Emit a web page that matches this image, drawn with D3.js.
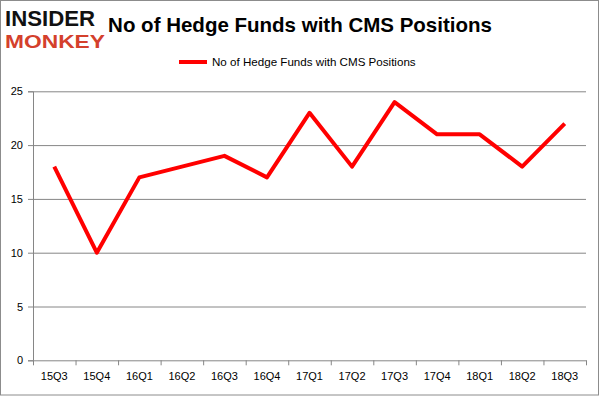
<!DOCTYPE html>
<html>
<head>
<meta charset="utf-8">
<script src="https://cdn.jsdelivr.net/npm/d3@7"></script>
<style>
  body { margin: 0; background: #fff; }
  text { font-family: "Liberation Sans", Arial, sans-serif; }
</style>
</head>
<body>
<div id="chart"></div>
<script>
// ── DATA ─────────────────────────────────────────────────────────────────────
const quarters = ['15Q3', '15Q4', '16Q1', '16Q2', '16Q3', '16Q4', '17Q1',
                  '17Q2', '17Q3', '17Q4', '18Q1', '18Q2', '18Q3'];
const fundCounts = [18, 10, 17, 18, 19, 17, 23, 18, 24, 21, 21, 18, 22];
const yTicks = [0, 5, 10, 15, 20, 25];
const seriesName = 'No of Hedge Funds with CMS Positions';
const titleText = 'No of Hedge Funds with CMS Positions';

// ── DIMENSIONS ───────────────────────────────────────────────────────────────
const W = 601, H = 396;
const plot = { left: 33, right: 586, top: 91.3, bottom: 360.3 };

const svg = d3.select('#chart').append('svg')
  .attr('width', W)
  .attr('height', H);

// outer frame
svg.append('rect')
  .attr('x', 0.5).attr('y', 0.5)
  .attr('width', 598).attr('height', 394.5)
  .attr('fill', '#fff')
  .attr('stroke', '#8c8c8c');

// ── SCALES ───────────────────────────────────────────────────────────────────
const x = d3.scaleBand().domain(quarters).range([plot.left, plot.right]);
const y = d3.scaleLinear().domain([0, 25]).range([plot.bottom, plot.top]);

// ── GRID + Y AXIS ────────────────────────────────────────────────────────────
svg.append('g')
  .attr('transform', `translate(${plot.left},0)`)
  .call(d3.axisLeft(y).tickValues(yTicks).tickSize(5).tickPadding(5))
  .call(g => g.select('.domain').attr('stroke', '#868686'))
  .call(g => g.selectAll('.tick line').attr('stroke', '#868686'))
  .call(g => g.selectAll('.tick text')
    .attr('fill', '#000').style('font-size', '11px'));

svg.append('g')
  .selectAll('line')
  .data(yTicks.filter(d => d > 0))
  .join('line')
    .attr('x1', plot.left).attr('x2', plot.right)
    .attr('y1', d => y(d) + 0.5).attr('y2', d => y(d) + 0.5)
    .attr('stroke', '#868686');

// ── X AXIS ───────────────────────────────────────────────────────────────────
const xAxisG = svg.append('g')
  .attr('transform', `translate(0,${plot.bottom})`)
  .call(d3.axisBottom(x).tickSize(0).tickPadding(12))
  .call(g => g.select('.domain').attr('stroke', '#868686'))
  .call(g => g.selectAll('.tick text')
    .attr('fill', '#000').style('font-size', '11px'));

// tick marks sit on the category boundaries
xAxisG.selectAll('.bound')
  .data(d3.range(quarters.length + 1))
  .join('line')
    .attr('class', 'bound')
    .attr('x1', i => x.range()[0] + i * x.step() + 0.5)
    .attr('x2', i => x.range()[0] + i * x.step() + 0.5)
    .attr('y1', 0).attr('y2', 5)
    .attr('stroke', '#868686');

// ── LINE ─────────────────────────────────────────────────────────────────────
const line = d3.line()
  .x((d, i) => x(quarters[i]) + x.bandwidth() / 2)
  .y(d => y(d));

svg.append('path')
  .datum(fundCounts)
  .attr('d', line)
  .attr('fill', 'none')
  .attr('stroke', '#ff0000')
  .attr('stroke-width', 4)
  .attr('stroke-linejoin', 'round');

// ── TITLE ────────────────────────────────────────────────────────────────────
svg.append('text')
  .attr('x', 300).attr('y', 32)
  .attr('text-anchor', 'middle')
  .style('font-size', '20.5px')
  .style('font-weight', 'bold')
  .text(titleText);

// ── LEGEND ───────────────────────────────────────────────────────────────────
svg.append('line')
  .attr('x1', 179).attr('x2', 207)
  .attr('y1', 62).attr('y2', 62)
  .attr('stroke', '#ff0000')
  .attr('stroke-width', 4);

svg.append('text')
  .attr('x', 212).attr('y', 66)
  .style('font-size', '11.6px')
  .attr('fill', '#000')
  .text(seriesName);

// ── LOGO ─────────────────────────────────────────────────────────────────────
// sizes picked so the two lines' text boxes just touch
svg.append('text')
  .attr('x', 5).attr('y', 26)
  .attr('textLength', 90)
  .attr('lengthAdjust', 'spacingAndGlyphs')
  .style('font-weight', 'bold')
  .style('font-size', '22px')
  .attr('fill', '#111')
  .text('INSIDER');

svg.append('text')
  .attr('x', 5).attr('y', 47.5)
  .attr('textLength', 100)
  .attr('lengthAdjust', 'spacingAndGlyphs')
  .style('font-weight', 'bold')
  .style('font-size', '18.4px')
  .attr('fill', '#d4402c')
  .text('MONKEY');
</script>
</body>
</html>
